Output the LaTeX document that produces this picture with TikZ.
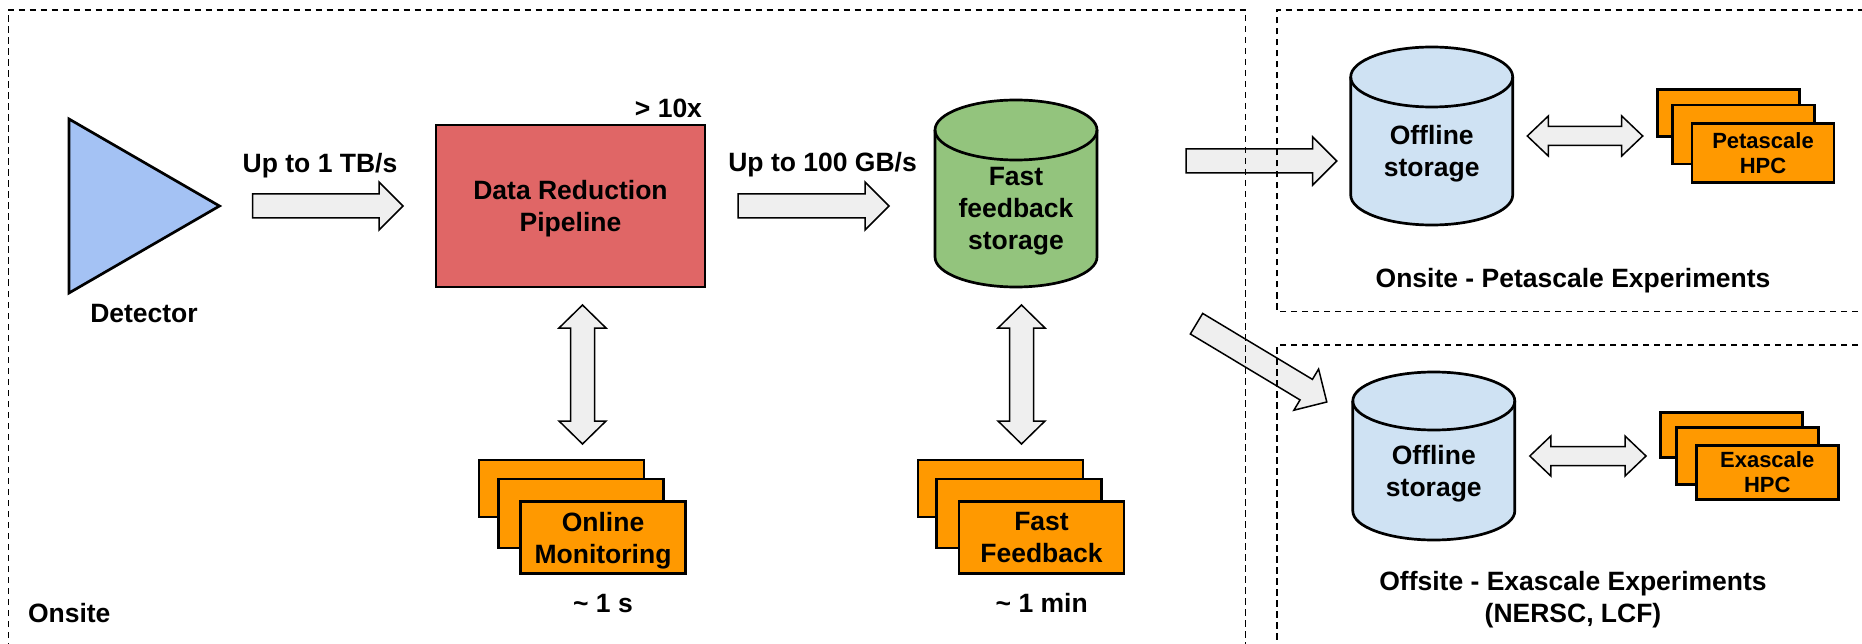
\documentclass[tikz,border=0pt]{standalone}
\usepackage{fontspec}
\setmainfont{Liberation Sans}
\usetikzlibrary{calc,backgrounds}

\definecolor{detblue}{HTML}{A4C2F4}
\definecolor{redbox}{HTML}{E06666}
\definecolor{greencyl}{HTML}{93C47D}
\definecolor{offblue}{HTML}{CFE2F3}
\definecolor{cardorange}{HTML}{FF9900}
\definecolor{arrowgray}{HTML}{EFEFEF}

\tikzset{
  shapeline/.style={draw=black, line width=2.7pt, line join=miter},
  lbl/.style={font=\fontsize{26.5}{32}\selectfont\bfseries, align=center, inner sep=0pt, outer sep=0pt, text depth=0pt},
  smalllbl/.style={font=\fontsize{22}{25.5}\selectfont\bfseries, align=center, inner sep=0pt, outer sep=0pt, text depth=0pt},
  card/.style={shapeline, fill=cardorange, inner sep=0pt, outer sep=0pt},
  cylnode/.style={lbl, inner sep=0pt, outer sep=0pt},
  blockarrow/.style={draw=black, line width=1.5pt, fill=arrowgray, line join=miter},
  zone/.style={draw=black, line width=1.5pt, dash pattern=on 6.5pt off 4.5pt},
}

% single block arrow: from, to, half body, half head, head length
\newcommand\fatarrow[5]{%
  \coordinate (fa-s) at #1;
  \coordinate (fa-e) at #2;
  \coordinate (fa-h) at ($(fa-e)!#5!(fa-s)$);
  \draw[blockarrow] ($(fa-s)!#3!90:(fa-e)$) -- ($(fa-h)!#3!-90:(fa-s)$)
    -- ($(fa-h)!#4!-90:(fa-s)$) -- (fa-e) -- ($(fa-h)!#4!90:(fa-s)$)
    -- ($(fa-h)!#3!90:(fa-s)$) -- ($(fa-s)!#3!-90:(fa-e)$) -- cycle;
}
% double-headed block arrow: end, end, half body, half head, head length
\newcommand\fatdarrow[5]{%
  \coordinate (fa-s) at #1;
  \coordinate (fa-e) at #2;
  \coordinate (fa-h1) at ($(fa-s)!#5!(fa-e)$);
  \coordinate (fa-h2) at ($(fa-e)!#5!(fa-s)$);
  \draw[blockarrow] (fa-s) -- ($(fa-h1)!#4!90:(fa-e)$) -- ($(fa-h1)!#3!90:(fa-e)$)
    -- ($(fa-h2)!#3!-90:(fa-s)$) -- ($(fa-h2)!#4!-90:(fa-s)$) -- (fa-e)
    -- ($(fa-h2)!#4!90:(fa-s)$) -- ($(fa-h2)!#3!90:(fa-s)$)
    -- ($(fa-h1)!#3!-90:(fa-e)$) -- ($(fa-h1)!#4!-90:(fa-e)$) -- cycle;
}
% storage cylinder around a node: node, x radius, y radius, fill
\newcommand\cylbody[4]{%
  \draw[shapeline, fill=#4] (#1.north west) -- ([yshift=#3]#1.south west)
    arc[start angle=180, end angle=360, x radius=#2, y radius=#3]
    -- (#1.north east)
    arc[start angle=0, end angle=180, x radius=#2, y radius=#3] -- cycle;
  \draw[shapeline] (#1.north west)
    arc[start angle=180, end angle=360, x radius=#2, y radius=#3];
}

\begin{document}
\begin{tikzpicture}[x=1pt, y=-1pt]
\useasboundingbox (0,0) rectangle (1862,644);
\clip (0,0) rectangle (1862,644);

% detector
\draw[shapeline, fill=detblue] (69,119) -- (219.5,206) -- (69,293) -- cycle;
\coordinate (det) at (219.5,206);
\node[lbl] (detlbl) at (144,313) {Detector};

% data reduction pipeline
\node[shapeline, fill=redbox, lbl, minimum width=269pt, minimum height=162pt] (drp) at (570.5,206) {Data Reduction\\Pipeline};
\node[lbl, anchor=east] (gain) at (702,108) {> 10x};

% rate labels
\node[lbl] (rate1) at (320,163) {Up to 1 TB/s};
\node[lbl] (rate2) at (822.6,162) {Up to 100 GB/s};

% storage cylinders
\node[cylnode, minimum width=162pt, minimum height=157pt] (ffs) at (1016,208.5) {Fast\\feedback\\storage};
\node[cylnode, minimum width=162pt, minimum height=148pt] (off1) at (1431.7,151) {Offline\\storage};
\node[cylnode, minimum width=162pt, minimum height=139pt] (off2) at (1433.8,470.5) {Offline\\storage};
\begin{pgfonlayer}{background}
  \cylbody{ffs}{81pt}{30pt}{greencyl}
  \cylbody{off1}{81pt}{30pt}{offblue}
  \cylbody{off2}{81pt}{29pt}{offblue}
\end{pgfonlayer}

% online monitoring stack
\node[card, minimum width=165pt, minimum height=57pt] (om1) at (561.5,488.5) {};
\node[card, minimum width=165pt, minimum height=69pt] (om2) at (581,513.5) {};
\node[card, lbl, minimum width=165pt, minimum height=72pt] (om3) at (603,537.5) {Online\\Monitoring};
\node[lbl] (lat1) at (603,603) {\textasciitilde{} 1 s};

% fast feedback stack
\node[card, minimum width=165pt, minimum height=57pt] (ff1) at (1000.5,488.5) {};
\node[card, minimum width=165pt, minimum height=69pt] (ff2) at (1019,513.5) {};
\node[card, lbl, minimum width=165pt, minimum height=72pt] (ff3) at (1041.5,537.5) {Fast\\Feedback};
\node[lbl] (lat2) at (1041.7,603) {\textasciitilde{} 1 min};

% petascale HPC stack
\node[card, minimum width=142pt, minimum height=47pt] (pb1) at (1728.3,113) {};
\node[card, minimum width=142pt, minimum height=59pt] (pb2) at (1743.7,134.5) {};
\node[card, smalllbl, minimum width=142pt, minimum height=59pt] (pb3) at (1763,153) {Petascale\\HPC};

% exascale HPC stack
\node[card, minimum width=142pt, minimum height=45pt] (eb1) at (1731.7,435) {};
\node[card, minimum width=142pt, minimum height=57pt] (eb2) at (1747.5,456.3) {};
\node[card, smalllbl, minimum width=142pt, minimum height=54pt] (eb3) at (1767.2,472.2) {Exascale\\HPC};

% region captions
\node[lbl] (petcap) at (1573,278) {Onsite - Petascale Experiments};
\node[lbl] (exacap) at (1573,597) {Offsite - Exascale Experiments\\(NERSC, LCF)};
\node[lbl, anchor=west] (onscap) at (28,613) {Onsite};

% data flow
\fatarrow{($(det)+(33,0)$)}{($(drp.west)+(-33,0)$)}{12pt}{24pt}{24pt}
\fatarrow{($(drp.east)+(33,0)$)}{($(drp.east -| ffs.west)+(-46,0)$)}{12pt}{24pt}{24pt}
\fatarrow{($(ffs.north east)+(89,31)$)}{($(off1.north west)+(-14,84)$)}{12pt}{24pt}{24pt}
\fatarrow{($(ffs.south east)+(99.5,36.7)$)}{($(off2.north west)+(-26,1)$)}{12pt}{24pt}{24pt}

\fatdarrow{($(drp.south)+(12,18)$)}{($(om1.north)+(21,-16)$)}{12pt}{23.5pt}{23pt}
\fatdarrow{($(ffs.south)+(5.5,18)$)}{($(ff1.north)+(21,-16)$)}{12pt}{23.5pt}{23pt}
\fatdarrow{($(off1.east)+(14.6,-15)$)}{($(pb1.west)+(-14.6,23)$)}{9.5pt}{20pt}{21pt}
\fatdarrow{($(off2.east)+(15,-14.5)$)}{($(eb1.west)+(-14.7,21)$)}{9.5pt}{20pt}{21pt}

% site boundaries
\draw[zone] (8.5,660) -- (8.5,10) -- (1245.5,10) -- (1245.5,660);
\draw[zone] (1880,311.5) -- (1277,311.5) -- (1277,10) -- (1880,10);
\draw[zone] (1880,345) -- (1277,345) -- (1277,660);
\end{tikzpicture}
\end{document}
